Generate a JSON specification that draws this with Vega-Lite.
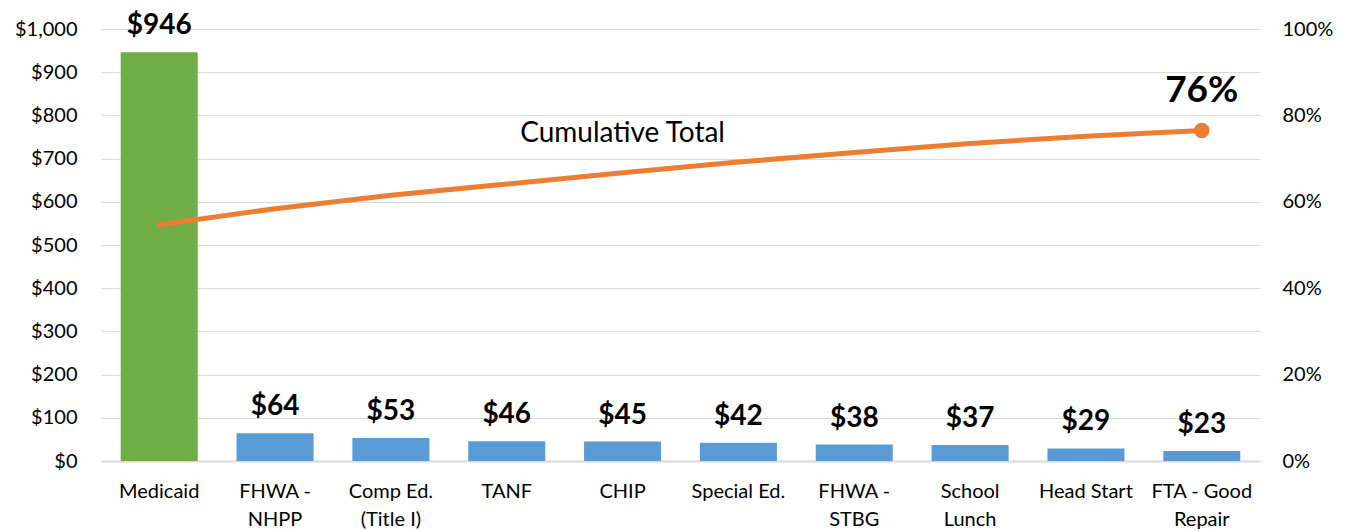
{
  "$schema": "https://vega.github.io/schema/vega-lite/v6.json",
  "autosize": "none",
  "width": 1159,
  "height": 432,
  "padding": {"left": 101, "top": 29, "right": 88, "bottom": 70},
  "background": "white",
  "config": {
    "view": {"stroke": null},
    "font": "Lato",
    "axis": {"labelFont": "Lato", "labelFontSize": 20, "labelColor": "#000000", "gridColor": "#D9D9D9", "ticks": false, "domain": false}
  },
  "data": {
    "values": [
      {"program": "Medicaid", "amount": 946, "cum": 0.547, "label": "$946", "kind": "top"},
      {"program": "FHWA -|NHPP", "amount": 64, "cum": 0.584, "label": "$64", "kind": "other"},
      {"program": "Comp Ed.|(Title I)", "amount": 53, "cum": 0.615, "label": "$53", "kind": "other"},
      {"program": "TANF", "amount": 46, "cum": 0.641, "label": "$46", "kind": "other"},
      {"program": "CHIP", "amount": 45, "cum": 0.667, "label": "$45", "kind": "other"},
      {"program": "Special Ed.", "amount": 42, "cum": 0.692, "label": "$42", "kind": "other"},
      {"program": "FHWA -|STBG", "amount": 38, "cum": 0.714, "label": "$38", "kind": "other"},
      {"program": "School|Lunch", "amount": 37, "cum": 0.735, "label": "$37", "kind": "other"},
      {"program": "Head Start", "amount": 29, "cum": 0.752, "label": "$29", "kind": "other"},
      {"program": "FTA - Good|Repair", "amount": 23, "cum": 0.765, "label": "$23", "kind": "other"}
    ]
  },
  "encoding": {
    "x": {
      "field": "program",
      "type": "nominal",
      "sort": null,
      "scale": {"paddingInner": 0.335, "paddingOuter": 0.17},
      "axis": {"title": null, "labelAngle": 0, "labelExpr": "split(datum.label, '|')", "labelLineHeight": 28, "labelPadding": 20, "labelBaseline": "top", "domain": true, "domainColor": "#D9D9D9", "domainWidth": 2}
    }
  },
  "layer": [
    {
      "encoding": {
        "y": {
          "field": "amount",
          "type": "quantitative",
          "scale": {"domain": [0, 1000], "nice": false},
          "axis": {"title": null, "values": [0, 100, 200, 300, 400, 500, 600, 700, 800, 900, 1000], "labelExpr": "'$' + format(datum.value, ',')", "labelPadding": 24, "grid": true}
        }
      },
      "layer": [
        {
          "mark": {"type": "bar"},
          "encoding": {
            "color": {"field": "kind", "type": "nominal", "scale": {"domain": ["top", "other"], "range": ["#70AD47", "#5B9BD5"]}, "legend": null}
          }
        },
        {
          "mark": {"type": "text", "baseline": "bottom", "dy": -12, "fontSize": 28, "fontWeight": "bold", "font": "Lato", "color": "#000000"},
          "encoding": {"text": {"field": "label"}}
        }
      ]
    },
    {
      "encoding": {
        "y": {
          "field": "cum",
          "type": "quantitative",
          "scale": {"domain": [0, 1], "nice": false},
          "axis": {"title": null, "orient": "right", "values": [0, 0.2, 0.4, 0.6, 0.8, 1], "format": ".0%", "labelPadding": 22, "grid": false}
        }
      },
      "layer": [
        {
          "mark": {"type": "line", "color": "#ED7D31", "strokeWidth": 5, "strokeCap": "round"},
          "encoding": {}
        },
        {
          "transform": [{"filter": "datum.program == 'FTA - Good|Repair'"}],
          "mark": {"type": "point", "filled": true, "color": "#ED7D31", "size": 240, "opacity": 1},
          "encoding": {}
        },
        {
          "transform": [{"filter": "datum.program == 'FTA - Good|Repair'"}],
          "mark": {"type": "text", "baseline": "bottom", "dy": -21, "fontSize": 37, "fontWeight": "bold", "font": "Lato", "color": "#000000"},
          "encoding": {"text": {"value": "76%"}}
        },
        {
          "transform": [{"filter": "datum.program == 'CHIP'"}],
          "mark": {"type": "text", "baseline": "middle", "dy": -39, "dx": 0, "fontSize": 28, "font": "Lato", "color": "#000000"},
          "encoding": {"text": {"value": "Cumulative Total"}}
        }
      ]
    }
  ],
  "resolve": {"scale": {"y": "independent", "color": "independent"}}
}
